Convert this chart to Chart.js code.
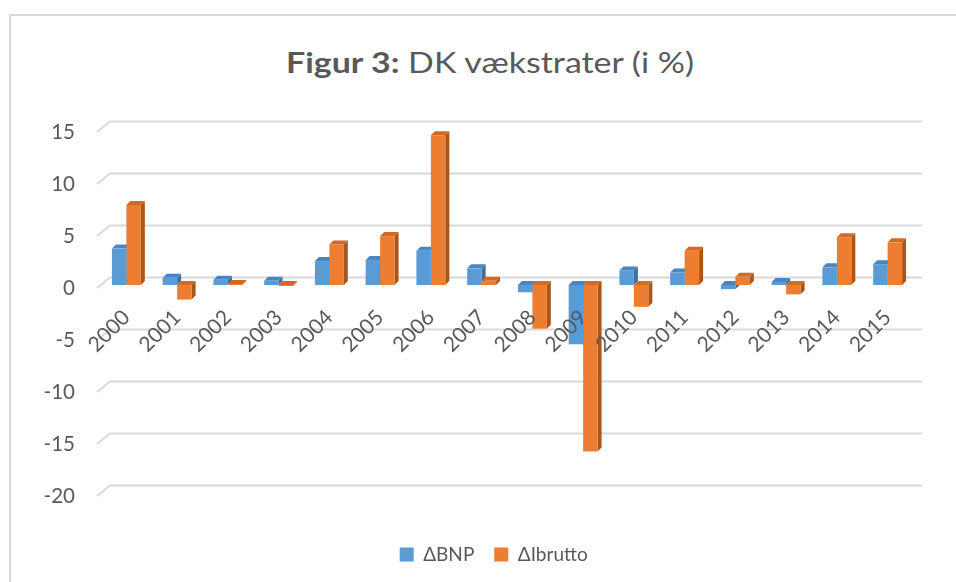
<!DOCTYPE html>
<html><head><meta charset="utf-8">
<script src="https://cdn.jsdelivr.net/npm/chart.js@4"></script>
<style>
body{margin:0;background:#fff;}
#wrap{position:relative;width:956px;height:582px;overflow:hidden;background:#fff;}
#frame{position:absolute;left:9px;top:14px;width:1200px;height:1200px;border-left:2px solid #d9d9d9;border-top:2px solid #d9d9d9;}
#title{position:absolute;left:0;top:40px;width:980px;text-align:center;font-family:Lato,sans-serif;font-size:29px;color:#595959;line-height:44px;white-space:nowrap;transform:scaleX(1.17);transform-origin:490px 22px;}
#title b{font-weight:700;}
canvas{position:absolute;left:0;top:0;}
</style></head>
<body><div id="wrap"><div id="frame"></div><div id="title"><b>Figur 3:</b> DK vækstrater (i %)</div><canvas id="c" width="956" height="582"></canvas></div>
<script>
const years = ['2000','2001','2002','2003','2004','2005','2006','2007','2008','2009','2010','2011','2012','2013','2014','2015'];
const bnp = [3.5, 0.7, 0.5, 0.4, 2.3, 2.4, 3.3, 1.6, -0.7, -5.7, 1.4, 1.2, -0.4, 0.3, 1.7, 2.0];
const ibrutto = [7.7, -1.4, 0.1, -0.1, 3.9, 4.7, 14.4, 0.4, -4.2, -16.0, -2.1, 3.3, 0.8, -0.9, 4.6, 4.1];
const seriesNames = ['ΔBNP', 'ΔIbrutto'];
const yMin = -20, yMax = 15, yStep = 5;

const TXT = '#595959';
const GRID = '#d9d9d9';
const DX = 4, DY = 4;

const bars3d = {
  id: 'bars3d',
  afterLayout(chart) {
    const lg = chart.legend;
    if (lg) { lg.left += 16.7; lg.right += 16.7; lg.top += 32; lg.bottom += 32; }
  },
  beforeDatasetsDraw(chart) {
    const c = chart.ctx, ca = chart.chartArea, ys = chart.scales.y;
    c.save();
    c.strokeStyle = GRID; c.lineWidth = 2;
    ys.ticks.forEach(t => {
      const py = ys.getPixelForValue(t.value);
      c.beginPath();
      c.moveTo(ca.left - 4, py + 3);
      c.lineTo(ca.left + 9, py - 7.5);
      c.lineTo(ca.right + 9, py - 7.5);
      c.stroke();
    });
    chart.data.datasets.forEach((ds, i) => {
      const meta = chart.getDatasetMeta(i);
      meta.data.forEach(bar => {
        const p = bar.getProps(['x', 'y', 'base', 'width'], true);
        const l = p.x - p.width / 2, r = p.x + p.width / 2;
        const top = Math.min(p.y, p.base), bot = Math.max(p.y, p.base);
        c.fillStyle = ds.sideColor;
        c.beginPath();
        c.moveTo(r, top); c.lineTo(r + DX, top - DY); c.lineTo(r + DX, bot - DY); c.lineTo(r, bot);
        c.closePath(); c.fill();
        c.fillStyle = ds.topColor;
        c.beginPath();
        c.moveTo(l, top); c.lineTo(l + DX, top - DY); c.lineTo(r + DX, top - DY); c.lineTo(r, top);
        c.closePath(); c.fill();
      });
    });
    c.restore();
  }
};

new Chart(document.getElementById('c'), {
  type: 'bar',
  data: {
    labels: years,
    datasets: [
      { label: seriesNames[0], data: bnp, backgroundColor: '#5b9bd5', topColor: '#4a85c2', sideColor: '#3d6e9c', borderWidth: 0 },
      { label: seriesNames[1], data: ibrutto, backgroundColor: '#ed7d31', topColor: '#d06a24', sideColor: '#a9561c', borderWidth: 0 }
    ]
  },
  options: {
    responsive: false,
    animation: false,
    devicePixelRatio: 1,
    categoryPercentage: 0.57,
    barPercentage: 1,
    layout: { padding: { top: 129, left: 41, right: 43, bottom: 40 } },
    plugins: {
      title: { display: false },
      tooltip: { enabled: false },
      legend: {
        position: 'bottom',
        labels: { boxWidth: 14, boxHeight: 14, padding: 20, color: TXT, font: { family: 'Lato', size: 19 } }
      }
    },
    scales: {
      x: {
        position: { y: 0 },
        grid: { display: false, drawTicks: false },
        border: { display: false },
        ticks: { z: 1, autoSkip: false, minRotation: 45, maxRotation: 45, padding: 20, color: TXT, font: { family: 'Lato', size: 21 } }
      },
      y: {
        min: yMin, max: yMax,
        grid: { display: false, drawTicks: false },
        border: { display: false },
        ticks: { stepSize: yStep, padding: 26, labelOffset: 3, color: TXT, font: { family: 'Lato', size: 20.5 } },
        afterFit(s) { s.width = 60; }
      }
    }
  },
  plugins: [bars3d]
});
</script>
</body></html>
